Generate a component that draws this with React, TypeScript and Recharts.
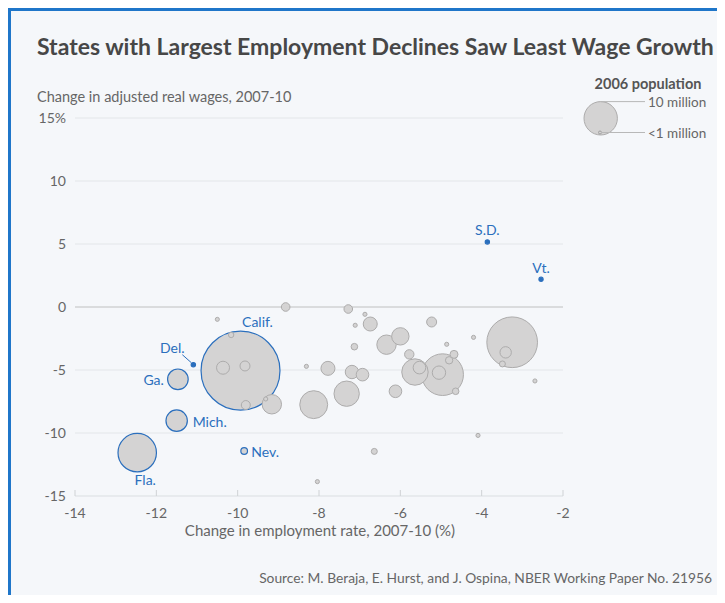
import React from 'react';
import { ScatterChart, Scatter, XAxis, YAxis, ZAxis, CartesianGrid, ReferenceLine } from 'recharts';

// unlabelled states: change in employment rate, change in real wages, 2006 population (millions)
const otherEmp = [
  -8.82, -10.5, -10.36, -9.82, -10.16, -9.8, -9.31, -9.16, -8.31, -7.28,
  -6.87, -6.74, -7.11, -5.23, -6.34, -6.0, -7.13, -4.2, -3.25, -3.41,
  -3.49, -4.86, -5.78, -5.64, -5.53, -4.96, -5.05, -4.8, -4.68, -4.64,
  -2.69, -4.09, -6.64, -8.04, -7.78, -7.19, -6.93, -7.32, -8.13, -6.12,
];
const otherWage = [
  0.0, -0.98, -4.82, -4.68, -2.22, -7.78, -7.3, -7.72, -4.71, -0.16,
  -0.58, -1.35, -1.45, -1.19, -2.99, -2.33, -3.15, -2.41, -2.8, -3.6,
  -4.52, -2.96, -3.76, -5.16, -4.81, -5.37, -5.21, -4.23, -3.76, -6.69,
  -5.87, -10.19, -11.46, -13.86, -4.87, -5.16, -5.37, -6.88, -7.75, -6.69,
];
const otherPop = [
  3.55, 0.5, 5.74, 4.26, 1.7, 3.75, 0.6, 8.8, 0.6, 3.55,
  0.6, 6.23, 0.6, 4.26, 8.8, 7.85, 2.46, 0.6, 23.4, 4.96,
  2.1, 0.6, 3.96, 12.1, 5.55, 19.2, 5.93, 2.9, 3.23, 2.46,
  0.6, 0.6, 2.1, 0.6, 6.23, 5.93, 5.55, 11.6, 12.8, 5.55,
];

// labelled states
const stateNames = ['Calif.', 'Fla.', 'Mich.', 'Ga.', 'Nev.', 'Del.', 'S.D.', 'Vt.'];
const stateEmp = [-9.93, -12.47, -11.5, -11.47, -9.84, -11.09, -3.86, -2.54];
const stateWage = [-5.05, -11.56, -9.02, -5.74, -11.43, -4.58, 5.16, 2.2];
const statePop = [36.5, 17.7, 9.74, 9.37, 2.5, 0.85, 0.78, 0.62];

const xTicks = [-14, -12, -10, -8, -6, -4, -2];
const yTicks = [-15, -10, -5, 0, 5, 10, 15];

const BLUE = '#2b6fbd';
const FONT = 'Lato, "Noto Sans", sans-serif';

// where each state name sits relative to its bubble
const labelPlace: Record<string, { dx: number; dy: number; anchor: string; leader?: boolean }> = {
  'Calif.': { dx: 17, dy: -49, anchor: 'middle' },
  'Fla.': { dx: 8, dy: 27, anchor: 'middle' },
  'Mich.': { dx: 16, dy: 1, anchor: 'start' },
  'Ga.': { dx: -14, dy: 0, anchor: 'end' },
  'Nev.': { dx: 7, dy: 0, anchor: 'start' },
  'Del.': { dx: -21, dy: -17, anchor: 'middle', leader: true },
  'S.D.': { dx: 0, dy: -12, anchor: 'middle' },
  'Vt.': { dx: 0, dy: -12, anchor: 'middle' },
};

const others = otherEmp
  .map((x, i) => ({ x, y: otherWage[i], z: otherPop[i] * otherPop[i] }))
  .sort((a, b) => b.z - a.z);

const states = stateNames.map((name, i) => ({
  name,
  x: stateEmp[i],
  y: stateWage[i],
  z: statePop[i] * statePop[i],
}));

const GrayBubble = (props: any) => {
  const r = props.width / 2;
  return <circle cx={props.cx} cy={props.cy} r={r} fill="#d4d3d3" stroke="#adacac" strokeWidth={1} />;
};

const StateBubble = (props: any) => {
  const r = props.width / 2;
  const p = labelPlace[props.payload.name];
  const small = r < 2.6;
  return (
    <g>
      <circle
        cx={props.cx}
        cy={props.cy}
        r={r}
        fill={small ? BLUE : '#d4d3d3'}
        stroke={BLUE}
        strokeWidth={1.2}
      />
      {p.leader && (
        <line
          x1={props.cx + p.dx + 10}
          y1={props.cy + p.dy + 7}
          x2={props.cx - 2}
          y2={props.cy - 2}
          stroke={BLUE}
          strokeWidth={1}
        />
      )}
      <text
        x={props.cx + p.dx}
        y={props.cy + p.dy}
        textAnchor={p.anchor}
        dominantBaseline="central"
        fill={BLUE}
        fontSize={14}
        fontFamily={FONT}
      >
        {props.payload.name}
      </text>
    </g>
  );
};

const App = () => {
  return (
    <div
      style={{
        position: 'relative',
        width: 714,
        height: 592,
        marginBottom: -8,
        background: '#f5f7fa',
        borderLeft: '3px solid #1f76c9',
        borderTop: '3px solid #1f76c9',
        fontFamily: FONT,
        color: '#555',
        overflow: 'hidden',
      }}
    >
      <div style={{ position: 'absolute', left: 26, top: 21, fontSize: 23, fontWeight: 700, color: '#474747', whiteSpace: 'nowrap' }}>
        States with Largest Employment Declines Saw Least Wage Growth
      </div>
      <div style={{ position: 'absolute', left: 26, top: 77, fontSize: 14.5, color: '#666', whiteSpace: 'nowrap' }}>
        Change in adjusted real wages, 2007-10
      </div>

      <ScatterChart
        width={714}
        height={592}
        margin={{ top: 107, right: 162, bottom: 77, left: 0 }}
        style={{ position: 'absolute', left: 0, top: 0 }}
      >
        <CartesianGrid vertical={false} stroke="#e3e6e9" />
        <XAxis
          type="number"
          dataKey="x"
          domain={[-14, -2]}
          ticks={xTicks}
          height={30}
          axisLine={{ stroke: '#e3e6e9' }}
          tickLine={{ stroke: '#cfd2d5' }}
          tickSize={-6}
          tickMargin={18}
          tick={{ fill: '#666', fontSize: 14, fontFamily: FONT }}
        />
        <YAxis
          type="number"
          dataKey="y"
          domain={[-15, 15]}
          ticks={yTicks}
          width={64}
          axisLine={false}
          tickLine={false}
          tickSize={0}
          tickMargin={9}
          tickFormatter={(v: number) => (v === 15 ? '15%' : String(v))}
          tick={{ fill: '#666', fontSize: 14, fontFamily: FONT }}
        />
        <ZAxis type="number" dataKey="z" domain={[0, 1369]} range={[12, 5027]} />
        <ReferenceLine y={0} stroke="#c8c8c8" />
        <Scatter data={states} shape={StateBubble} isAnimationActive={false} />
        <Scatter data={others} shape={GrayBubble} isAnimationActive={false} />
      </ScatterChart>

      <div style={{ position: 'absolute', left: 0, width: 618, top: 510, textAlign: 'center', fontSize: 15, color: '#666' }}>
        Change in employment rate, 2007-10 (%)
      </div>
      <div style={{ position: 'absolute', right: 13, top: 558, fontSize: 13.8, color: '#666', whiteSpace: 'nowrap' }}>
        Source: M. Beraja, E. Hurst, and J. Ospina, NBER Working Paper No. 21956
      </div>

      <svg width={714} height={592} style={{ position: 'absolute', left: 0, top: 0, pointerEvents: 'none' }}>
        <text x={637} y={72} textAnchor="middle" dominantBaseline="central" fontSize={14.5} fontWeight={700} fill="#555" fontFamily={FONT}>
          2006 population
        </text>
        <circle cx={589.7} cy={107.3} r={16.7} fill="#d4d3d3" stroke="#adacac" />
        <circle cx={589} cy={121.5} r={1.5} fill="#d4d3d3" stroke="#a0a0a0" />
        <line x1={589.7} y1={90.6} x2={634} y2={90.6} stroke="#b8b8b8" />
        <line x1={590} y1={121.5} x2={634} y2={121.5} stroke="#b8b8b8" />
        <text x={637} y={90.6} dominantBaseline="central" fontSize={13.5} fill="#666" fontFamily={FONT}>
          10 million
        </text>
        <text x={637} y={121.5} dominantBaseline="central" fontSize={13.5} fill="#666" fontFamily={FONT}>
          &lt;1 million
        </text>
      </svg>
    </div>
  );
};

export default App;
